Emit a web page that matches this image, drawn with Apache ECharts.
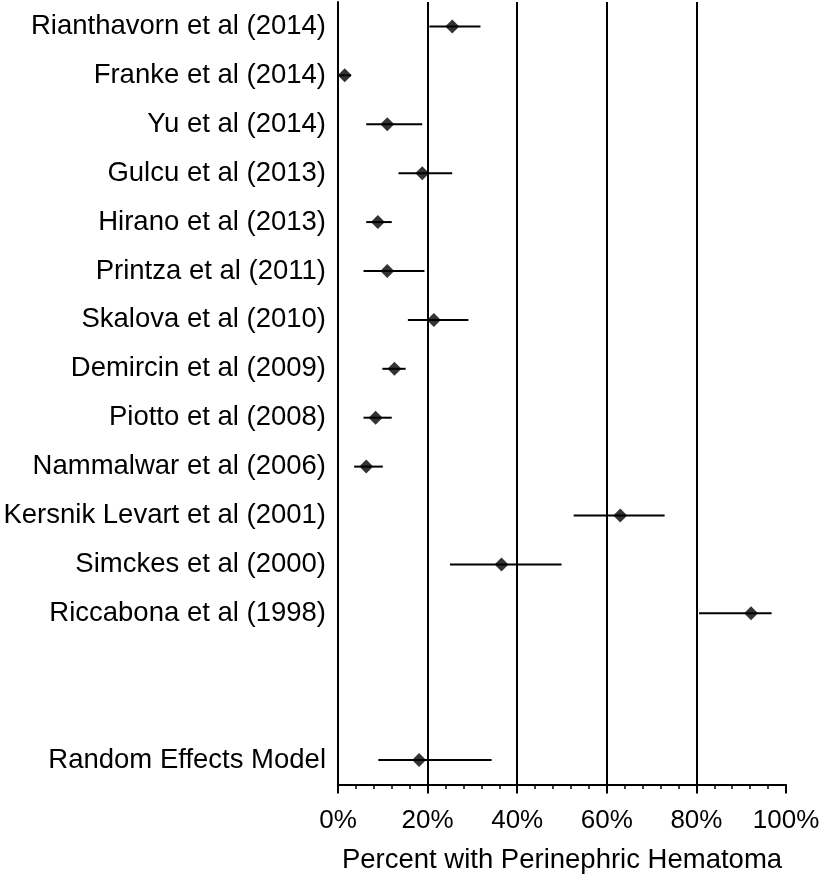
<!DOCTYPE html>
<html>
<head>
<meta charset="utf-8">
<script src="https://cdn.jsdelivr.net/npm/echarts@6/dist/echarts.min.js"></script>
<style>
html,body{margin:0;padding:0;background:#fff;}
#chart{width:822px;height:874px;}
</style>
</head>
<body>
<div id="chart"></div>
<script>
// Row labels (top to bottom); two blank spacer rows before the pooled estimate
const categories = [
  'Rianthavorn et al (2014)',
  'Franke et al (2014)',
  'Yu et al (2014)',
  'Gulcu et al (2013)',
  'Hirano et al (2013)',
  'Printza et al (2011)',
  'Skalova et al (2010)',
  'Demircin et al (2009)',
  'Piotto et al (2008)',
  'Nammalwar et al (2006)',
  'Kersnik Levart et al (2001)',
  'Simckes et al (2000)',
  'Riccabona et al (1998)',
  '',
  ' ',
  'Random Effects Model'
];
// Point estimates (%) — null for spacer rows
const estimates = [25.5, 1.5, 11.0, 18.8, 8.9, 11.0, 21.4, 12.6, 8.4, 6.3, 63.0, 36.5, 92.2, null, null, 18.1];
// Lower confidence limits (%)
const lowers = [20.4, 0.2, 6.3, 13.5, 6.3, 5.7, 15.6, 9.9, 5.7, 3.6, 52.6, 25.0, 80.6, null, null, 9.0];
// Upper confidence limits (%)
const uppers = [31.8, 2.9, 18.8, 25.5, 12.0, 19.3, 29.1, 15.1, 12.0, 10.0, 72.9, 49.9, 96.8, null, null, 34.3];
// X tick values
const xTicks = [0, 20, 40, 60, 80, 100];

const FONT = "'Liberation Sans', Arial, Helvetica, sans-serif";

const ciData = [];
const ptData = [];
categories.forEach((c, i) => {
  if (estimates[i] != null) {
    ciData.push([lowers[i], uppers[i], i]);
    ptData.push([estimates[i], i]);
  }
});

const chart = echarts.init(document.getElementById('chart'), null, {renderer: 'canvas'});
chart.setOption({
  animation: false,
  backgroundColor: '#fff',
  grid: {left: 338, right: 36, top: 2, bottom: 89.5, containLabel: false, outerBoundsMode: 'none'},
  xAxis: {
    type: 'value',
    min: xTicks[0],
    max: xTicks[xTicks.length - 1],
    interval: 20,
    name: 'Percent with Perinephric Hematoma',
    nameLocation: 'middle',
    nameGap: 62,
    nameTextStyle: {fontFamily: FONT, fontSize: 27.5, color: '#000'},
    axisLine: {show: true, lineStyle: {color: '#000', width: 2}},
    axisTick: {show: true, length: 9, lineStyle: {color: '#000', width: 2}},
    minorTick: {show: true, splitNumber: 5, length: 4.5, lineStyle: {color: '#000', width: 1.5}},
    axisLabel: {
      formatter: '{value}%',
      fontFamily: FONT, fontSize: 26, color: '#000', margin: 23
    },
    splitLine: {show: true, showMinLine: false, showMaxLine: false, lineStyle: {color: '#000', width: 2}}
  },
  yAxis: {
    type: 'category',
    data: categories,
    inverse: true,
    boundaryGap: true,
    axisLine: {show: true, onZero: false, lineStyle: {color: '#000', width: 2}},
    axisTick: {show: false},
    splitLine: {show: false},
    axisLabel: {fontFamily: FONT, fontSize: 27.5, color: '#000', margin: 12, interval: 0}
  },
  series: [
    {
      type: 'custom',
      data: ciData,
      encode: {x: [0, 1], y: 2},
      renderItem: function (params, api) {
        const p1 = api.coord([api.value(0), api.value(2)]);
        const p2 = api.coord([api.value(1), api.value(2)]);
        return {
          type: 'line',
          shape: {x1: p1[0], y1: p1[1], x2: p2[0], y2: p2[1]},
          style: {stroke: '#000', lineWidth: 2}
        };
      },
      z: 3
    },
    {
      type: 'scatter',
      data: ptData,
      symbol: 'diamond',
      symbolSize: 14,
      itemStyle: {color: '#000'},
      z: 4
    }
  ]
});
</script>
</body>
</html>
